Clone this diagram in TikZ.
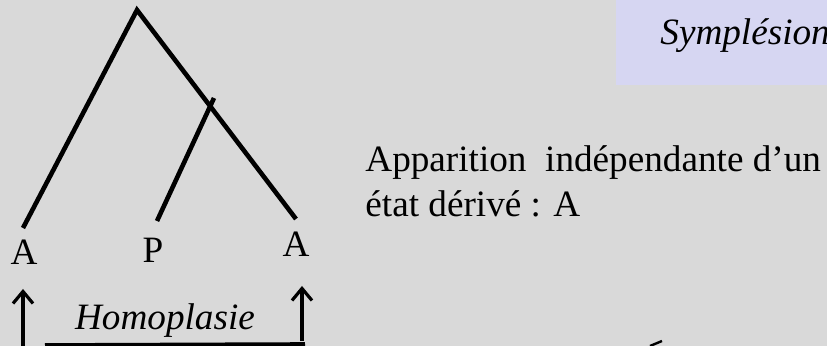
\documentclass[tikz,border=0pt]{standalone}
\usepackage{fontspec}
\setmainfont{Liberation Serif}
\definecolor{fond}{RGB}{217,217,217}
\definecolor{lavande}{RGB}{214,214,242}
\begin{document}
\begin{tikzpicture}[x=0.5pt,y=-0.5pt,every node/.style={inner sep=0,font=\fontsize{18.6}{22.5}\selectfont},
    branch/.style={line width=2.3pt},
    up/.style={line width=1.6pt,-{Straight Barb[length=6pt,width=10pt]}}]
    \usetikzlibrary{arrows.meta}
    \fill[fond] (0,0) rectangle (827,346);
    \useasboundingbox (0,0) rectangle (827,346);
    \fill[lavande] (616,0) rectangle (827,85);

    % arbre
    \coordinate (root) at (137,10);
    \coordinate (noeud) at (212,103);
    \coordinate (f1) at (23,228);
    \coordinate (f2) at (157,221);
    \coordinate (f3) at (296,219);
    \coordinate (tick) at (214,98);
    \draw[branch] (f1) -- (root) -- (f3);
    \draw[branch] (f2) -- (tick);

    \node[anchor=base] (a1) at (24,265){A};
    \node[anchor=base] (p) at (153,263){P};
    \node[anchor=base] (a2) at (296,257){A};

    % homoplasie
    \coordinate (b1) at (23,346);
    \coordinate (b2) at (302,341);
    \draw[up] (b1) -- (23,289);
    \draw[up] (b2) -- (302,286);
    \coordinate (l1) at (45,345);
    \coordinate (l2) at (305,344);
    \draw[line width=1.8pt] (l1) -- (l2);
    \node[anchor=base,font=\fontsize{18.6}{22.5}\selectfont\itshape] (homo) at (165,330){Homoplasie};

    \node[anchor=base west,font=\fontsize{18.6}{22.5}\selectfont\itshape] (symp) at (660,45){Symplésion};
    \node[anchor=base west] (app) at (365,172){Apparition~ indépendante d’un};
    \node[anchor=base west] (etat) at (365,217){état dérivé : A};

    \coordinate (c1) at (650,346);
    \coordinate (c2) at (662,341);
    \draw[line width=1.2pt] (c1) -- (c2);
\end{tikzpicture}
\end{document}
